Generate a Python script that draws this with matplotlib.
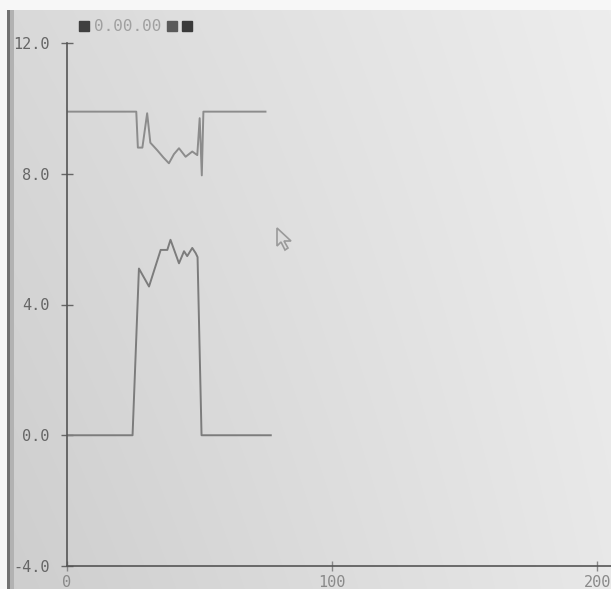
import numpy as np
import matplotlib
matplotlib.use("Agg")
import matplotlib.pyplot as plt
from matplotlib.patches import Rectangle, Polygon

# --- data -------------------------------------------------------------
upper_x = [0, 26.3, 26.9, 28.6, 30.4, 31.6, 34.2, 36.5, 38.6, 40.5, 42.4,
           44.9, 47.4, 49.3, 50.2, 51.0, 51.6, 75]
upper_y = [9.9, 9.9, 8.8, 8.8, 9.85, 8.95, 8.72, 8.5, 8.32, 8.6, 8.78,
           8.52, 8.68, 8.57, 9.7, 7.95, 9.9, 9.9]

lower_x = [0, 24.9, 27.3, 31.1, 35.5, 38.0, 39.2, 42.4, 44.3, 45.5, 47.4,
           48.7, 49.4, 50.9, 77]
lower_y = [0, 0, 5.1, 4.55, 5.67, 5.67, 5.98, 5.26, 5.63, 5.48, 5.73,
           5.57, 5.45, 0, 0]

y_ticks = [-4.0, 0.0, 4.0, 8.0, 12.0]
x_ticks = [0, 100, 200]
legend_text = "0.00.00"

W, H = 611, 589
fig = plt.figure(figsize=(W / 100, H / 100), dpi=100)

# --- backdrop: uneven grey panel with a white margin on top/left -------
bg = fig.add_axes([0, 0, 1, 1], zorder=-10)
bg.set_axis_off()
xx, yy = np.meshgrid(np.linspace(0, 1, W), np.linspace(0, 1, H))
shade = 0.83 + 0.08 * xx + 0.02 * (1 - yy) - 0.025 * (1 - xx) * yy
img = np.dstack([shade] * 3)
img[:10, :, :] = 0.97
img[:, :7, :] = 0.97
img[10:, 7:10, :] = 0.45
img[10:, 10:14, :] = 0.70
bg.imshow(np.clip(img, 0, 1), extent=[0, 1, 0, 1], aspect="auto",
          interpolation="bilinear")
bg.set_xlim(0, 1)
bg.set_ylim(0, 1)

# --- plot area ---------------------------------------------------------
left, right = 66.5 / W, 1.0
bottom, top = 1 - 566 / H, 1 - 43 / H
ax = fig.add_axes([left, bottom, right - left, top - bottom])
ax.patch.set_alpha(0)
ax.set_xlim(0, (W - 66.5) / 2.653)
ax.set_ylim(-4, 12)

for s in ("top", "right"):
    ax.spines[s].set_visible(False)
for s in ("left", "bottom"):
    ax.spines[s].set_color("#555555")
    ax.spines[s].set_linewidth(1.2)

mono = "DejaVu Sans Mono"
ax.set_yticks(y_ticks)
ax.set_yticklabels([f"{v:.1f}" for v in y_ticks], family=mono,
                   fontsize=11, color="#666666")
ax.set_xticks(x_ticks)
ax.set_xticklabels([str(v) for v in x_ticks], family=mono,
                   fontsize=11, color="#8a8a8a")
ax.tick_params(axis="y", direction="inout", length=8, width=1.0,
               color="#666666", pad=8)
ax.tick_params(axis="x", direction="inout", length=7, width=1.0,
               color="#888888", pad=3)

ax.plot(upper_x, upper_y, color="#8c8c8c", lw=1.4, solid_joinstyle="round")
ax.plot(lower_x, lower_y, color="#7c7c7c", lw=1.4, solid_joinstyle="round")

# --- header squares and time readout ----------------------------------
def square(px, py, size, color):
    fig.patches.append(Rectangle((px / W, 1 - (py + size) / H), size / W,
                                 size / H, transform=fig.transFigure,
                                 color=color, zorder=5))

square(79, 21, 10, "#3f3f3f")
fig.text(94 / W, 1 - 26.5 / H, legend_text, family=mono, fontsize=11.5,
         color="#a0a0a0", va="center", ha="left")
square(167, 21, 10, "#5a5a5a")
square(182, 21, 10, "#3a3a3a")

# --- mouse pointer -----------------------------------------------------
ptr = [(277, 228), (277, 246), (281, 242), (285, 250), (288, 248),
       (284, 241), (291, 241)]
fig.patches.append(Polygon([(px / W, 1 - py / H) for px, py in ptr],
                           closed=True, transform=fig.transFigure,
                           facecolor="#dcdcdc", edgecolor="#9a9a9a",
                           lw=1.2, zorder=5))

fig.savefig("out.png", dpi=100)
